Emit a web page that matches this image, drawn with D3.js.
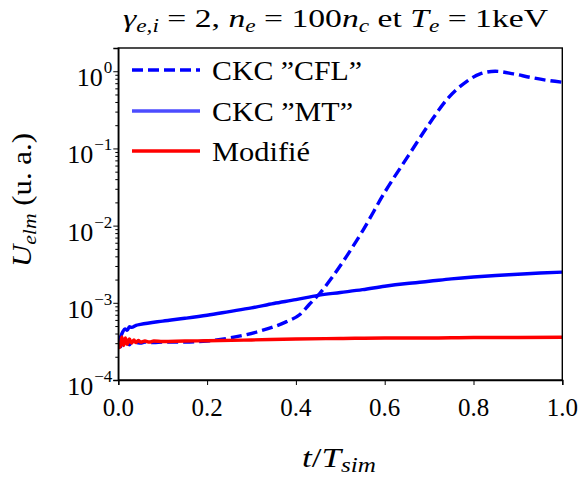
<!DOCTYPE html>
<html><head><meta charset="utf-8">
<script src="https://cdn.jsdelivr.net/npm/d3@7"></script>
<style>
html,body{margin:0;padding:0;background:#fff;}
svg{display:block;}
</style></head>
<body>
<script>
// ---- data ----
const tCFL = [0,0.005,0.01,0.015,0.02,0.025,0.03,0.035,0.04,0.05,0.06,0.08,0.1,0.15,0.2,0.25,0.319,0.379,0.409,0.43,0.454,0.48,0.514,0.55,0.6,0.653,0.702,0.74,0.785,0.815,0.849,0.89,0.927,0.965,1.0];
const uCFL = [3.0e-4,2.7e-4,3.1e-4,2.8e-4,3.2e-4,2.85e-4,3.1e-4,2.9e-4,3.05e-4,3.0e-4,3.1e-4,3.05e-4,3.1e-4,3.1e-4,3.2e-4,3.5e-4,4.3e-4,5.7e-4,7.05e-4,9.5e-4,1.33e-3,2.08e-3,4.0e-3,8.5e-3,0.027,0.08,0.215,0.43,0.74,0.925,1.0,0.925,0.836,0.764,0.72];
const tMT = [0,0.005,0.01,0.015,0.02,0.025,0.03,0.04,0.05,0.1,0.15,0.2,0.25,0.3,0.35,0.4,0.45,0.5,0.55,0.6,0.65,0.7,0.75,0.8,0.85,0.9,0.95,1.0];
const uMT = [3.1e-4,3.6e-4,4.2e-4,4.6e-4,4.4e-4,4.9e-4,4.8e-4,5.1e-4,5.25e-4,5.8e-4,6.3e-4,6.9e-4,7.7e-4,8.6e-4,9.8e-4,1.1e-3,1.25e-3,1.36e-3,1.48e-3,1.64e-3,1.78e-3,1.9e-3,2.04e-3,2.16e-3,2.26e-3,2.34e-3,2.43e-3,2.5e-3];
const tMod = [0,0.004,0.008,0.012,0.016,0.02,0.025,0.03,0.035,0.04,0.045,0.05,0.06,0.07,0.08,0.1,0.15,0.2,0.3,0.4,0.5,0.6,0.7,0.8,0.9,1.0];
const uMod = [2.6e-4,2.7e-4,3.6e-4,2.8e-4,3.5e-4,2.9e-4,3.4e-4,3.0e-4,3.3e-4,3.05e-4,3.25e-4,3.1e-4,3.2e-4,3.1e-4,3.2e-4,3.15e-4,3.2e-4,3.22e-4,3.3e-4,3.4e-4,3.45e-4,3.5e-4,3.5e-4,3.55e-4,3.55e-4,3.58e-4];
const xTicks = [0,0.2,0.4,0.6,0.8,1.0];
const xTickLabels = ["0.0","0.2","0.4","0.6","0.8","1.0"];
const yTicks = [1e-4,1e-3,1e-2,1e-1,1e0];
const yTickExps = ["−4","−3","−2","−1","0"];
const legendLabels = ["CKC \u201DCFL\u201D","CKC \u201DMT\u201D","Modifié"];

// ---- layout ----
const FONT = "'Liberation Serif', 'DejaVu Serif', 'Times New Roman', serif";
const W = 587, H = 477;
const L = 118.3, R = 562.3, T = 48, B = 380;
const svg = d3.select("body").append("svg").attr("width",W).attr("height",H)
  .attr("font-family",FONT);
const x = d3.scaleLinear().domain([0,1]).range([L,R]);
const y = d3.scaleLog().domain([1e-4,2.0]).range([B,T]);

svg.append("clipPath").attr("id","clip").append("rect")
  .attr("x",L).attr("y",T).attr("width",R-L).attr("height",B-T);

const line = d3.line().x(d=>x(d[0])).y(d=>y(d[1])).curve(d3.curveMonotoneX);
const g = svg.append("g").attr("clip-path","url(#clip)");
g.append("path").datum(d3.zip(tCFL,uCFL)).attr("d",line)
  .attr("fill","none").attr("stroke","#0000ff").attr("stroke-width",3.4).attr("stroke-dasharray","11,5");
g.append("path").datum(d3.zip(tMT,uMT)).attr("d",line)
  .attr("fill","none").attr("stroke","#0000ff").attr("stroke-width",3.4);
g.append("path").datum(d3.zip(tMod,uMod)).attr("d",line)
  .attr("fill","none").attr("stroke","#ff0000").attr("stroke-width",3.4);

// ---- axes ----
const xAxis = svg.append("g").attr("transform",`translate(0,${B})`)
  .call(d3.axisBottom(x).tickValues(xTicks).tickSize(5).tickFormat(()=>""));
xAxis.selectAll(".tick text").remove();
svg.append("g").selectAll("text").data(xTicks).join("text")
  .attr("x",d=>x(d)).attr("y",B+36).attr("text-anchor","middle")
  .attr("font-size",25)
  .text((d,i)=>xTickLabels[i]);

const minor = [];
for (let e=-4;e<=0;e++) for (let k=2;k<=9;k++){ const v=k*Math.pow(10,e); if(v<=2.0) minor.push(v); }
svg.append("g").attr("transform",`translate(${L},0)`)
  .call(d3.axisLeft(y).tickValues(minor).tickSize(3).tickFormat(()=> ""))
  .call(a=>a.select(".domain").remove())
  .call(a=>a.selectAll(".tick text").remove());
const yAxis = svg.append("g").attr("transform",`translate(${L},0)`)
  .call(d3.axisLeft(y).tickValues(yTicks).tickSize(5).tickFormat(()=>""));
yAxis.selectAll(".tick text").remove();
const yLab = svg.append("g");
yTicks.forEach((v,i)=>{
  const yy = y(v);
  const expRight = L - 6;
  const ex = yLab.append("text").attr("x",expRight).attr("y",yy+2).attr("text-anchor","end")
    .attr("font-size",17).text(yTickExps[i]);
  const ew = ex.node().getComputedTextLength();
  yLab.append("text").attr("x",expRight-ew-1).attr("y",yy+15).attr("text-anchor","end")
    .attr("font-size",26).text("10");
});
svg.selectAll(".domain").attr("stroke","#000").attr("stroke-width",1.4);
svg.selectAll(".tick line").attr("stroke","#000").attr("stroke-width",1);

// frame
svg.append("rect").attr("x",L).attr("y",T).attr("width",R-L).attr("height",B-T)
  .attr("fill","none").attr("stroke","#000").attr("stroke-width",1.4);

// ---- legend ----
const legY = [70,111,151];
const legW = [150,141,98];
const legStyles = [{c:"#0000ff",dash:"11,5",op:1},{c:"#0000ff",dash:null,op:0.7},{c:"#ff0000",dash:null,op:1}];
legendLabels.forEach((lab,i)=>{
  const s = legStyles[i];
  svg.append("line").attr("x1",132).attr("x2",200).attr("y1",legY[i]).attr("y2",legY[i])
    .attr("stroke",s.c).attr("stroke-width",3.4).attr("stroke-opacity",s.op)
    .attr("stroke-dasharray",s.dash);
  svg.append("text").attr("x",212).attr("y",legY[i]+10).attr("font-size",27)
    .attr("textLength",legW[i]).attr("lengthAdjust","spacingAndGlyphs").text(lab);
});

// ---- title ----
const title = svg.append("text").attr("x",123).attr("y",27).attr("font-size",26)
  .attr("textLength",425).attr("lengthAdjust","spacingAndGlyphs");
title.append("tspan").attr("font-style","italic").text("γ");
title.append("tspan").attr("font-size",18).attr("font-style","italic").attr("dy",5).text("e,i");
title.append("tspan").attr("dy",-5).text(" = 2, ");
title.append("tspan").attr("font-style","italic").text("n");
title.append("tspan").attr("font-size",18).attr("font-style","italic").attr("dy",5).text("e");
title.append("tspan").attr("dy",-5).text(" = 100");
title.append("tspan").attr("font-style","italic").text("n");
title.append("tspan").attr("font-size",18).attr("font-style","italic").attr("dy",5).text("c");
title.append("tspan").attr("dy",-5).text(" et ");
title.append("tspan").attr("font-style","italic").text("T");
title.append("tspan").attr("font-size",18).attr("font-style","italic").attr("dy",5).text("e");
title.append("tspan").attr("dy",-5).text(" = 1keV");

// ---- axis labels ----
const xl = svg.append("text").attr("x",302).attr("y",467).attr("font-size",28)
  .attr("textLength",74).attr("lengthAdjust","spacingAndGlyphs");
xl.append("tspan").attr("font-style","italic").text("t");
xl.append("tspan").text("/");
xl.append("tspan").attr("font-style","italic").text("T");
xl.append("tspan").attr("font-size",20).attr("font-style","italic").attr("dy",5).text("sim");

const yl = svg.append("text").attr("transform","translate(31,267) rotate(-90)").attr("font-size",27)
  .attr("textLength",134).attr("lengthAdjust","spacingAndGlyphs");
yl.append("tspan").attr("font-style","italic").text("U");
yl.append("tspan").attr("font-size",19).attr("font-style","italic").attr("dy",5).text("elm");
yl.append("tspan").attr("dy",-5).text(" (u. a.)");

// apply font and colour to every text
svg.selectAll("text").style("font-family",FONT).style("fill","#000");
</script>
</body></html>
